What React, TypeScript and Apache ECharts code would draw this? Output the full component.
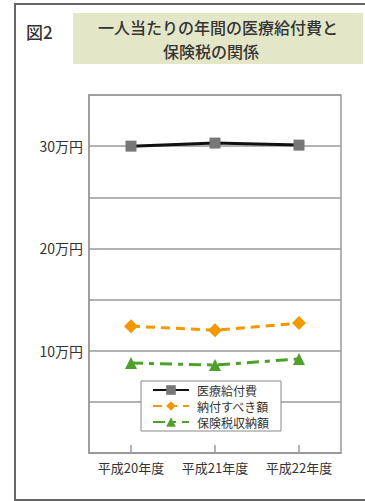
import React, { useEffect, useRef } from "react";
import * as echarts from "echarts";

const categories = ["平成20年度", "平成21年度", "平成22年度"];
const seriesNames = ["医療給付費", "納付すべき額", "保険税収納額"];
const medicalCost = [30.0, 30.3, 30.1];
const dueAmount = [12.4, 12.0, 12.7];
const collected = [8.8, 8.6, 9.2];
const labeledTicks = [10, 20, 30];

const FONT = '"Noto Sans CJK JP", "Noto Sans", sans-serif';

export default function App() {
  const ref = useRef<HTMLDivElement>(null);
  useEffect(() => {
    if (!ref.current) return;
    const chart = echarts.init(ref.current, undefined, { renderer: "svg" });
    chart.setOption({
      animation: false,
      backgroundColor: "#ffffff",
      textStyle: { fontFamily: FONT },
      graphic: [
        {
          type: "rect",
          shape: { x: 15, y: 4, width: 370, height: 496 },
          style: { fill: "none", stroke: "#666", lineWidth: 2 },
          silent: true,
        },
        {
          type: "rect",
          shape: { x: 73, y: 13, width: 290, height: 51 },
          style: { fill: "#e4e6c8" },
          silent: true,
        },
        {
          type: "text",
          x: 26,
          y: 31,
          style: {
            text: "図2",
            fontSize: 17,
            fontWeight: 500,
            fontFamily: FONT,
            fill: "#333",
            textVerticalAlign: "middle",
          },
        },
        {
          type: "text",
          x: 218,
          y: 27,
          style: {
            text: "一人当たりの年間の医療給付費と",
            fontSize: 16,
            fontWeight: 500,
            fontFamily: FONT,
            fill: "#333",
            textAlign: "center",
            textVerticalAlign: "middle",
          },
        },
        {
          type: "text",
          x: 211,
          y: 51,
          style: {
            text: "保険税の関係",
            fontSize: 16,
            fontWeight: 500,
            fontFamily: FONT,
            fill: "#333",
            textAlign: "center",
            textVerticalAlign: "middle",
          },
        },
      ],
      grid: {
        left: 89,
        right: 24,
        top: 95,
        bottom: 48,
        show: true,
        borderColor: "#999",
        borderWidth: 1.5,
      },
      legend: {
        orient: "vertical",
        left: 141,
        top: 381,
        width: 151,
        backgroundColor: "#fff",
        borderColor: "#888",
        borderWidth: 1,
        padding: [3, 12, 3, 11],
        itemGap: 4,
        itemWidth: 36,
        itemHeight: 12,
        textStyle: { fontSize: 12, color: "#333", fontFamily: FONT, padding: [0, 0, 0, 3] },
        data: seriesNames,
      },
      xAxis: {
        type: "category",
        data: categories,
        boundaryGap: true,
        axisLine: { lineStyle: { color: "#999", width: 1.5 } },
        axisTick: { show: true, inside: true, alignWithLabel: true, length: 8, lineStyle: { color: "#999", width: 1.5 } },
        axisLabel: { fontSize: 13, color: "#333", margin: 8, fontFamily: FONT, interval: 0 },
      },
      yAxis: {
        type: "value",
        min: 0,
        max: 35,
        interval: 5,
        axisLine: { show: true, lineStyle: { color: "#999", width: 1.5 } },
        axisTick: { show: false },
        splitLine: { lineStyle: { color: "#999", width: 1.5 } },
        axisLabel: {
          fontSize: 14,
          color: "#333",
          margin: 6,
          fontFamily: FONT,
          formatter: (v: number) => (labeledTicks.includes(v) ? `${v}万円` : ""),
        },
      },
      series: [
        {
          name: seriesNames[0],
          type: "line",
          data: medicalCost,
          symbol: "rect",
          symbolSize: 11,
          itemStyle: { color: "#777" },
          lineStyle: { color: "#111", width: 3 },
        },
        {
          name: seriesNames[1],
          type: "line",
          data: dueAmount,
          symbol: "diamond",
          symbolSize: 14,
          itemStyle: { color: "#f39800" },
          lineStyle: { color: "#f39800", width: 3, type: [9, 6] },
        },
        {
          name: seriesNames[2],
          type: "line",
          data: collected,
          symbol: "triangle",
          symbolSize: 12,
          itemStyle: { color: "#4fa02a" },
          lineStyle: { color: "#4fa02a", width: 3, type: [12, 6, 5, 6] },
        },
      ],
    });
    return () => chart.dispose();
  }, []);
  return (
    <div
      ref={ref}
      style={{ position: "fixed", left: 0, top: 0, width: 365, height: 501 }}
    />
  );
}
